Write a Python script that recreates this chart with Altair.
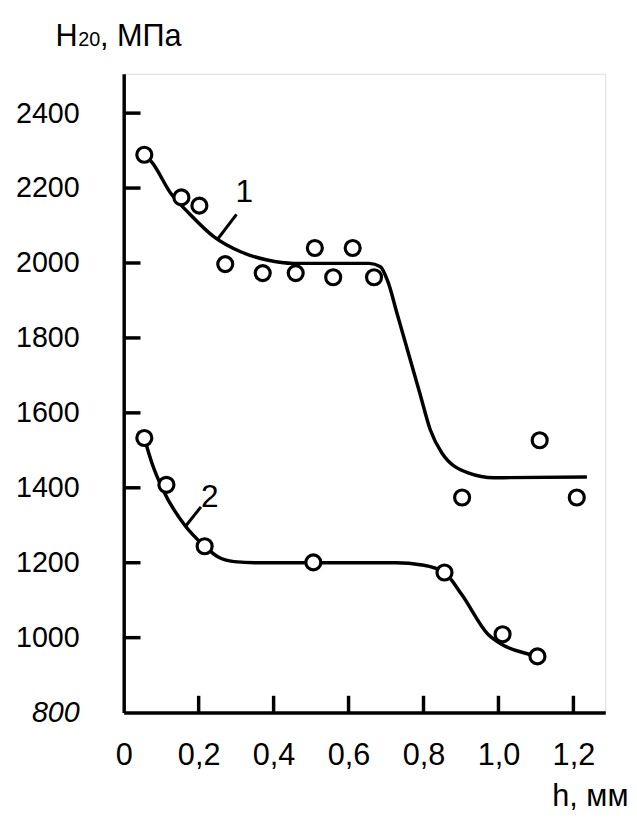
import altair as alt
import pandas as pd

# ---- data ----
pts1_x = [0.055, 0.154, 0.202, 0.271, 0.371, 0.459, 0.510, 0.559, 0.611, 0.668, 0.903, 1.110, 1.209]
pts1_y = [2289, 2175, 2153, 1997, 1973, 1973, 2040, 1962, 2040, 1962, 1374, 1527, 1374]

curve1_x = [0.060, 0.075, 0.127, 0.172, 0.242, 0.312, 0.383, 0.453, 0.655, 0.685, 0.705, 0.730, 0.790, 0.818, 0.849, 0.919, 0.989, 1.236]
curve1_y = [2285, 2269, 2184, 2135, 2069, 2030, 2008, 1999, 1999, 1990, 1950, 1863, 1653, 1555, 1493, 1440, 1427, 1429]

pts2_x = [0.055, 0.114, 0.216, 0.506, 0.856, 1.011, 1.104]
pts2_y = [1533, 1408, 1244, 1201, 1174, 1009, 950]

curve2_x = [0.055, 0.075, 0.106, 0.163, 0.216, 0.251, 0.295, 0.350, 0.646, 0.726, 0.796, 0.856, 0.902, 0.972, 1.007, 1.077, 1.104]
curve2_y = [1533, 1467, 1392, 1300, 1244, 1216, 1203, 1200, 1200, 1200, 1194, 1174, 1115, 1009, 983, 957, 950]

leader_x = [0.251, 0.164]
leader_y = [2064, 1296]
leader_x2 = [0.301, 0.206]
leader_y2 = [2130, 1349]
label_text = ["1", "2"]
label_x = [0.322, 0.230]
label_y = [2188, 1375]

y_ticks = [800, 1000, 1200, 1400, 1600, 1800, 2000, 2200, 2400]
x_ticks = [0, 0.2, 0.4, 0.6, 0.8, 1.0, 1.2]

FONT = "Liberation Sans"
W, H = 487, 646
LW = 3.5

pts = pd.DataFrame({"x": pts1_x + pts2_x, "y": pts1_y + pts2_y,
                    "s": ["1"] * len(pts1_x) + ["2"] * len(pts2_x)})
curves = pd.DataFrame({"x": curve1_x + curve2_x, "y": curve1_y + curve2_y,
                       "s": ["1"] * len(curve1_x) + ["2"] * len(curve2_x)})
leaders = pd.DataFrame({"x": leader_x, "y": leader_y, "x2": leader_x2, "y2": leader_y2})
labels = pd.DataFrame({"x": label_x, "y": label_y, "t": label_text})
yt = pd.DataFrame({"v": y_ticks[1:]})
xt = pd.DataFrame({"v": x_ticks[1:]})

xs = alt.Scale(domain=[0, 1.285], nice=False, zero=False)
ys = alt.Scale(domain=[800, 2505], nice=False, zero=False)

x_axis = alt.Axis(values=x_ticks, ticks=False, grid=False, domainWidth=LW, domainColor="black",
                  labelExpr="datum.value == 0 ? '0' : replace(format(datum.value, '.1f'), '.', ',')",
                  labelFont=FONT, labelFontSize=31, labelColor="black", labelPadding=28,
                  labelFlush=False, labelOverlap=False,
                  title="h, мм", titleFont=FONT, titleFontSize=31, titleFontWeight="normal",
                  titleColor="black", titleAlign="right", titleAnchor="end", titleX=510, titleY=94,
                  titleBaseline="alphabetic")
y_axis = alt.Axis(values=y_ticks, ticks=False, grid=False, domainWidth=LW, domainColor="black",
                  format="d",
                  labelFont=FONT, labelFontSize=29, labelColor="black", labelPadding=45,
                  labelFlush=False, labelOverlap=False,
                  labelFontStyle=alt.ExprRef(expr="datum.value == 800 ? 'italic' : 'normal'"),
                  title=None)

base_x = alt.X("x:Q", scale=xs, axis=x_axis)
base_y = alt.Y("y:Q", scale=ys, axis=y_axis)

lines = alt.Chart(curves).mark_line(color="black", strokeWidth=LW, interpolate="monotone").encode(
    x=base_x, y=base_y, detail="s:N")

points = alt.Chart(pts).mark_point(shape="circle", filled=True, fill="white", stroke="black",
                                   strokeWidth=3.2, size=230, opacity=1).encode(
    x=alt.X("x:Q", scale=xs), y=alt.Y("y:Q", scale=ys))

lead = alt.Chart(leaders).mark_rule(color="black", strokeWidth=3).encode(
    x=alt.X("x:Q", scale=xs), y=alt.Y("y:Q", scale=ys), x2="x2:Q", y2="y2:Q")

lab = alt.Chart(labels).mark_text(font=FONT, fontSize=32, color="black", align="center",
                                  baseline="middle").encode(
    x=alt.X("x:Q", scale=xs), y=alt.Y("y:Q", scale=ys), text="t:N")

ytick = alt.Chart(yt).mark_rule(color="black", strokeWidth=LW).encode(
    y=alt.Y("v:Q", scale=ys), x=alt.value(0), x2=alt.value(17))
xtick = alt.Chart(xt).mark_rule(color="black", strokeWidth=LW).encode(
    x=alt.X("v:Q", scale=xs), y=alt.value(H), y2=alt.value(H - 17))

tH = alt.Chart(pd.DataFrame({"t": ["H"]})).mark_text(font=FONT, fontSize=31, color="black",
                                                     align="left", baseline="alphabetic").encode(
    text="t:N", x=alt.value(-69), y=alt.value(-28))
t20 = alt.Chart(pd.DataFrame({"t": ["20"]})).mark_text(font=FONT, fontSize=20, color="black",
                                                       align="left", baseline="alphabetic").encode(
    text="t:N", x=alt.value(-46), y=alt.value(-28))
tU = alt.Chart(pd.DataFrame({"t": [", МПа"]})).mark_text(font=FONT, fontSize=31, color="black",
                                                         align="left", baseline="alphabetic").encode(
    text="t:N", x=alt.value(-24), y=alt.value(-28))

chart = alt.layer(lines, points, lead, lab, ytick, xtick, tH, t20, tU).properties(
    width=W, height=H,
    autosize=alt.AutoSizeParams(type="none"),
    padding={"left": 117, "top": 62, "right": 24, "bottom": 96},
).configure_view(stroke=None).configure(background="white")

chart.save("out.html", embed_options={"renderer": "svg", "actions": False})
